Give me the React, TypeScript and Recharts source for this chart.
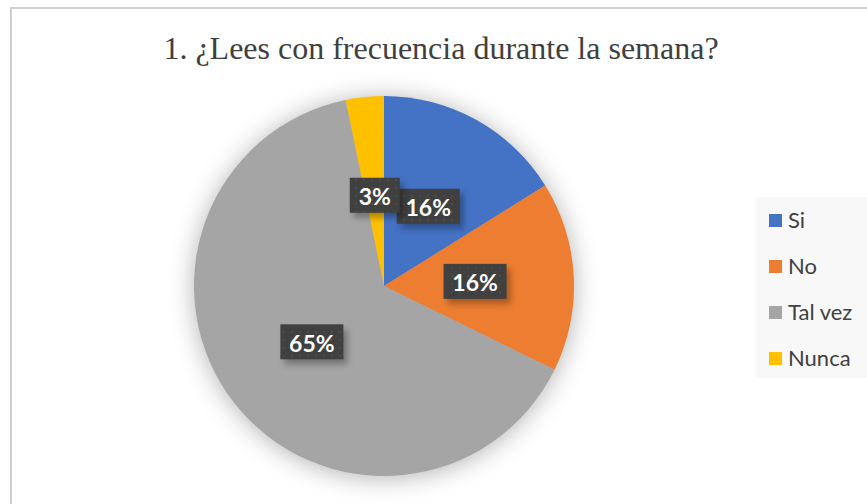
import React from "react";
import { PieChart, Pie, Cell, Legend } from "recharts";

const categories = ["Si", "No", "Tal vez", "Nunca"];
const counts = [5, 5, 20, 1];
const percentLabels = ["16%", "16%", "65%", "3%"];
const colors = ["#4472C4", "#ED7D31", "#A5A5A5", "#FFC000"];
const title = "1. ¿Lees con frecuencia durante la semana?";

const data = categories.map((name, i) => ({ name, value: counts[i], pct: percentLabels[i] }));

const RAD = Math.PI / 180;

const renderLabel = (props: any) => {
  const { cx, cy, midAngle, outerRadius, index } = props;
  const r = outerRadius * 0.48;
  const x = cx + r * Math.cos(-midAngle * RAD);
  const y = cy + r * Math.sin(-midAngle * RAD);
  const text = percentLabels[index];
  const w = text.length === 2 ? 50 : 63;
  const h = 35;
  return (
    <g>
      <rect x={x - w / 2 + 4} y={y - h / 2 + 5} width={w} height={h} fill="rgba(0,0,0,0.3)" filter="url(#lblShadow)" />
      <rect x={x - w / 2} y={y - h / 2} width={w} height={h} fill="#404040" />
      <rect x={x - w / 2 + 1} y={y - h / 2 + 1} width={w - 2} height={h - 2} fill="url(#dots)" />
      <text
        x={x}
        y={y + 1}
        textAnchor="middle"
        dominantBaseline="central"
        fill="#ffffff"
        fontFamily="Lato, 'Open Sans', sans-serif"
        fontWeight={700}
        fontSize={23}
      >
        {text}
      </text>
    </g>
  );
};

const LegendContent = () => (
  <div style={{ background: "#f8f8f8", width: 111, height: 181, boxSizing: "border-box" }}>
    {categories.map((c, i) => (
      <div key={c} style={{ display: "flex", alignItems: "center", height: 46, paddingLeft: 13 }}>
        <span style={{ display: "inline-block", width: 13, height: 13, background: colors[i], marginRight: 6 }} />
        <span style={{ fontFamily: "Lato, 'Open Sans', sans-serif", fontSize: 22, color: "#404040", lineHeight: "22px" }}>{c}</span>
      </div>
    ))}
  </div>
);

export default function App() {
  return (
    <div style={{ position: "absolute", left: 0, top: 0, width: 867, height: 504, overflow: "hidden", background: "#fff" }}>
      <style>{`.pieShadow .recharts-pie { filter: drop-shadow(0 2px 12px rgba(0,0,0,0.3)); }`}</style>
      <div style={{ position: "absolute", left: 10, top: 7, width: 900, height: 600, border: "2px solid #cfcfcf" }} />
      <div
        style={{
          position: "absolute",
          left: 0,
          top: 27,
          width: 882,
          textAlign: "center",
          fontFamily: "'Liberation Serif', 'Times New Roman', serif",
          fontSize: 32,
          color: "#404040",
          lineHeight: "42px",
        }}
      >
        {title}
      </div>
      <div className="pieShadow" style={{ position: "absolute", left: 0, top: 0 }}>
        <PieChart width={867} height={504}>
          <defs>
            <filter id="lblShadow" x="-30%" y="-30%" width="160%" height="160%">
              <feGaussianBlur stdDeviation="3" />
            </filter>
            <pattern id="dots" width="8" height="8" patternUnits="userSpaceOnUse">
              <rect x="3" y="3" width="2" height="2" fill="#4c4c4c" />
            </pattern>
          </defs>
          <Pie
            data={data}
            dataKey="value"
            nameKey="name"
            cx={379}
            cy={281}
            outerRadius={190}
            startAngle={90}
            endAngle={-270}
            stroke="none"
            label={renderLabel}
            labelLine={false}
            isAnimationActive={false}
          >
            {data.map((d, i) => (
              <Cell key={d.name} fill={colors[i]} />
            ))}
          </Pie>
          <Legend content={<LegendContent />} wrapperStyle={{ left: 756, top: 197, width: 111, height: 181 }} />
        </PieChart>
      </div>
    </div>
  );
}
